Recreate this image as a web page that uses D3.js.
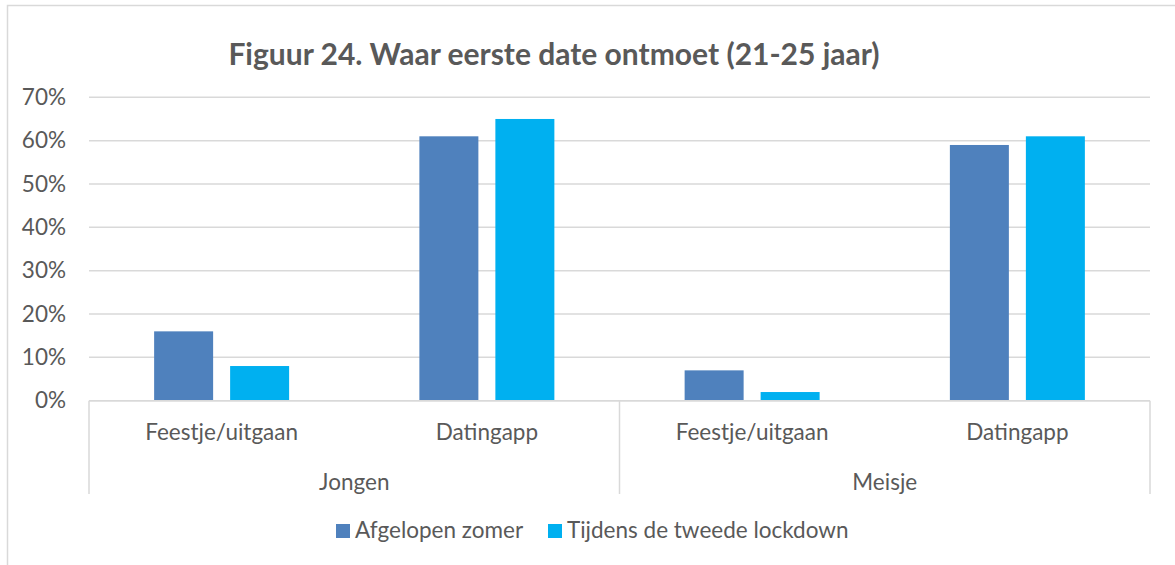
<!DOCTYPE html>
<html>
<head>
<meta charset="utf-8">
<script src="https://cdn.jsdelivr.net/npm/d3@7"></script>
<style>
  body { margin: 0; background: #fff; }
  text { font-family: Lato, "Open Sans", sans-serif; fill: #595959; }
</style>
</head>
<body>
<div id="chart"></div>
<script>
// Figuur 24 - waar eerste date ontmoet (21-25 jaar)

const groups = ["Jongen", "Meisje"];
const categories = ["Feestje/uitgaan", "Datingapp"];
const seriesNames = ["Afgelopen zomer", "Tijdens de tweede lockdown"];
const afgelopenZomer = [16, 61, 7, 59];   // Jongen: feestje, datingapp, Meisje: feestje, datingapp
const tijdensLockdown = [8, 65, 2, 61];
const yTicks = [0, 10, 20, 30, 40, 50, 60, 70];

var width = 1175;
var height = 565;
var colors = ["#4f81bd", "#00b0f0"];

var rows = [];
groups.forEach(function(g, gi) {
  categories.forEach(function(c, ci) {
    var i = gi * categories.length + ci;
    rows.push({ key: g + "|" + c, group: g, cat: c, values: [afgelopenZomer[i], tijdensLockdown[i]] });
  });
});

var svg = d3.select("#chart").append("svg")
    .attr("width", width)
    .attr("height", height);

// chart border (top + left visible)
svg.append("path")
  .attr("d", "M7.5,565 V5.5 H1175")
  .attr("fill", "none")
  .attr("stroke", "#d9d9d9")
  .attr("stroke-width", 1.5);

var plot = { left: 89, right: 1150, top: 97.3, bottom: 400.7 };

var y = d3.scaleLinear()
    .domain([0, 70])
    .range([plot.bottom, plot.top]);

var x0 = d3.scaleBand()
    .domain(rows.map(function(d) { return d.key; }))
    .range([plot.left, plot.right]);

var x1 = d3.scaleBand()
    .domain([0, 1])
    .range([0, x0.bandwidth()])
    .paddingInner(17 / 76)
    .paddingOuter(0.857);

var xg = d3.scaleBand()
    .domain(groups)
    .range([plot.left, plot.right]);

// gridlines
svg.append("g")
  .selectAll("line")
  .data(yTicks)
  .enter().append("line")
    .attr("x1", plot.left)
    .attr("x2", plot.right)
    .attr("y1", function(d) { return y(d); })
    .attr("y2", function(d) { return y(d); })
    .attr("stroke", "#d9d9d9")
    .attr("stroke-width", 1.5);

// y axis labels
var yAxis = d3.axisLeft(y)
    .tickValues(yTicks)
    .tickSize(0)
    .tickPadding(23)
    .tickFormat(function(d) { return d + "%"; });

svg.append("g")
  .attr("transform", "translate(" + plot.left + ",0)")
  .call(yAxis)
  .call(function(g) { g.select(".domain").remove(); })
  .selectAll("text")
    .attr("font-family", "Lato, sans-serif")
    .attr("font-size", "22.5px")
    .attr("fill", "#595959");

// bars
var bars = svg.append("g")
  .selectAll("g")
  .data(rows)
  .enter().append("g")
    .attr("transform", function(d) { return "translate(" + x0(d.key) + ",0)"; });

bars.selectAll("rect")
  .data(function(d) { return d.values; })
  .enter().append("rect")
    .attr("x", function(d, i) { return x1(i); })
    .attr("width", x1.bandwidth())
    .attr("y", function(d) { return y(d); })
    .attr("height", function(d) { return y(0) - y(d); })
    .attr("fill", function(d, i) { return colors[i]; });

// category axis: baseline + group separators
svg.append("line")
  .attr("x1", plot.left)
  .attr("x2", plot.right)
  .attr("y1", y(0))
  .attr("y2", y(0))
  .attr("stroke", "#d9d9d9")
  .attr("stroke-width", 1.5);

var seps = [plot.left].concat(groups.map(function(g) { return xg(g) + xg.bandwidth(); }));
svg.append("g")
  .selectAll("line")
  .data(seps)
  .enter().append("line")
    .attr("x1", function(d) { return d; })
    .attr("x2", function(d) { return d; })
    .attr("y1", y(0))
    .attr("y2", 494)
    .attr("stroke", "#d9d9d9")
    .attr("stroke-width", 1.5);

svg.append("g")
  .selectAll("text")
  .data(rows)
  .enter().append("text")
    .attr("x", function(d) { return x0(d.key) + x0.bandwidth() / 2; })
    .attr("y", 440)
    .attr("text-anchor", "middle")
    .attr("font-size", "22.5px")
    .text(function(d) { return d.cat; });

svg.append("g")
  .selectAll("text")
  .data(groups)
  .enter().append("text")
    .attr("x", function(d) { return xg(d) + xg.bandwidth() / 2; })
    .attr("y", 490)
    .attr("text-anchor", "middle")
    .attr("font-size", "22.5px")
    .text(function(d) { return d; });

// title
svg.append("text")
  .attr("x", 554)
  .attr("y", 65)
  .attr("text-anchor", "middle")
  .attr("font-size", "30px")
  .attr("font-weight", "bold")
  .text("Figuur 24. Waar eerste date ontmoet (21-25 jaar)");

// legend
var legendX = [336, 548];
var legend = svg.append("g")
  .selectAll("g")
  .data(seriesNames)
  .enter().append("g")
    .attr("transform", function(d, i) { return "translate(" + legendX[i] + ",524)"; });

legend.append("rect")
  .attr("width", 14)
  .attr("height", 14)
  .attr("fill", function(d, i) { return colors[i]; });

legend.append("text")
  .attr("x", 19)
  .attr("y", 14)
  .attr("font-size", "22.5px")
  .text(function(d) { return d; });
</script>
</body>
</html>
